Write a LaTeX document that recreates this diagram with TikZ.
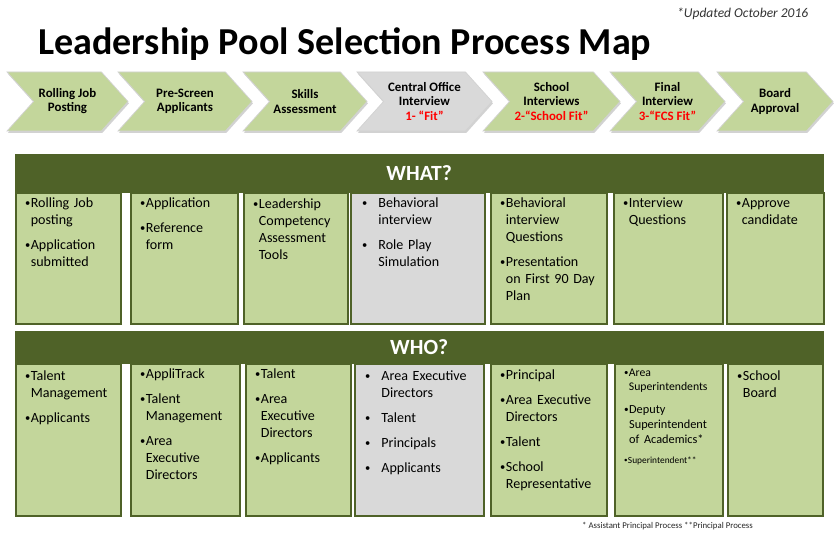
\documentclass[tikz,border=0pt]{standalone}
\usepackage{fontspec}
\setmainfont{Carlito}
\usepackage{xcolor}
\usetikzlibrary{shapes.symbols, shadows, positioning}
\newlength{\pxu}
\setlength{\pxu}{0.03cm}
\definecolor{chevgreen}{HTML}{C3D69B}
\definecolor{chevgray}{HTML}{D9D9D9}
\definecolor{darkolive}{HTML}{4F6228}
\definecolor{fitred}{HTML}{FF0000}
% bullet items with hanging indent
\newcommand{\smallbullet}{\raisebox{0.08em}{\scalebox{0.75}{\textbullet}}}
\newcommand{\bul}[1]{\setlength{\parskip}{8\pxu}\hangindent=0.4em\hangafter=1\makebox[0.4em][l]{\smallbullet}#1\par}
\newcommand{\gbul}[1]{\setlength{\parskip}{8\pxu}\hangindent=1.15em\hangafter=1\makebox[1.15em][l]{\smallbullet}#1\par}
\tikzset{
  % process chevrons
  chevron/.style={signal, signal from=west, signal to=east, signal pointer angle=96, minimum height=59\pxu, inner sep=0pt, draw=gray!35, line width=0.6pt, fill=#1, align=center, font=\bfseries\fontsize{11}{12}\selectfont, drop shadow={shadow xshift=0.8pt, shadow yshift=-1.6pt, opacity=0.35}},
  chevron/.default={chevgreen},
  % section header bars
  headbar/.style={rectangle, fill=darkolive, draw=darkolive, minimum width=808\pxu, anchor=north west, inner sep=0pt, text=white, font=\bfseries\fontsize{18.5}{20}\selectfont},
  % column boxes
  colbox/.style={rectangle, draw=darkolive, line width=1.6pt, fill=#1, anchor=north west, inner sep=0pt},
  colbox/.default={chevgreen},
  itemtext/.style={anchor=north west, inner sep=0pt, text width=#1, font=\fontsize{12}{14.5}\selectfont},
}
\begin{document}
\begin{tikzpicture}[x=\pxu, y=-\pxu]
    \useasboundingbox (0,0) rectangle (840,537);
    \fill[white] (0,0) rectangle (840,537);

    % Title
    \node[anchor=base west, inner sep=0pt, font=\bfseries\fontsize{32.5}{36}\selectfont] (title) at (38,55) {Leadership Pool Selection Process Map};
    \node[anchor=base west, inner sep=0pt, text=black!80, font=\itshape\fontsize{11.5}{13}\selectfont] (updated) at (677,18) {*Updated October 2016};

    % Chevrons
    \node[chevron, minimum width=121\pxu] (posting) at (67.5,101.5) {Rolling Job\\Posting};
    \node[chevron, minimum width=134\pxu] (prescreen) at (185,101.5) {Pre-Screen\\Applicants};
    \node[chevron, minimum width=124\pxu] (skills) at (305,101.5) {Skills\\Assessment};
    \node[chevron=chevgray, minimum width=135\pxu] (central) at (424.5,101.5) {Central Office\\Interview\\\textcolor{fitred}{1- “Fit”}};
    \node[chevron, minimum width=137\pxu] (school) at (551.5,101.5) {School\\Interviews\\\textcolor{fitred}{2-“School Fit”}};
    \node[chevron, minimum width=115\pxu] (final) at (667.5,101.5) {Final\\Interview\\\textcolor{fitred}{3-“FCS Fit”}};
    \node[chevron, minimum width=116\pxu] (board) at (775,101.5) {Board\\Approval};

    % WHAT? boxes
    \foreach \n/\xa/\xb/\col in {1/15/120/chevgreen, 2/130/237/chevgreen, 3/243/347/chevgreen, 4/350/484/chevgray, 5/490/606/chevgreen, 6/613/722/chevgreen, 7/726/823/chevgreen}
      \node[colbox=\col, minimum width={(\xb-\xa)*\pxu}, minimum height=131\pxu] (what\n) at (\xa,192) {};
    \node[headbar, minimum height=38\pxu] (whathead) at (15,154) {WHAT?};

    \node[itemtext=93\pxu, below right=6\pxu and 10\pxu of what1.north west] (whattxt1) {\bul{Rolling Job\newline posting}\bul{Application\newline submitted}};
    \node[itemtext=95\pxu, below right=6\pxu and 10\pxu of what2.north west] (whattxt2) {\bul{Application}\bul{Reference\newline form}};
    \node[itemtext=92\pxu, below right=7\pxu and 10\pxu of what3.north west] (whattxt3) {\bul{Leadership\newline Competency\newline Assessment\newline Tools}};
    \node[itemtext=120\pxu, below right=6\pxu and 12\pxu of what4.north west] (whattxt4) {\gbul{Behavioral\newline interview}\gbul{Role Play\newline Simulation}};
    \node[itemtext=104\pxu, below right=6\pxu and 10\pxu of what5.north west] (whattxt5) {\bul{Behavioral\newline interview\newline Questions}\bul{Presentation\newline on First 90 Day\newline Plan}};
    \node[itemtext=97\pxu, below right=6\pxu and 10\pxu of what6.north west] (whattxt6) {\bul{Interview\newline Questions}};
    \node[itemtext=85\pxu, below right=6\pxu and 10\pxu of what7.north west] (whattxt7) {\bul{Approve\newline candidate}};

    % WHO? boxes
    \foreach \n/\xa/\xb/\col in {1/15/120/chevgreen, 2/130/239/chevgreen, 3/245/350/chevgreen, 4/354/483/chevgray, 5/490/606/chevgreen, 6/614/722/chevgreen, 7/727/822/chevgreen}
      \node[colbox=\col, minimum width={(\xb-\xa)*\pxu}, minimum height=152\pxu] (who\n) at (\xa,363) {};
    \node[headbar, minimum height=32\pxu] (whohead) at (15,331) {WHO?};

    \node[itemtext=93\pxu, below right=8\pxu and 10\pxu of who1.north west] (whotxt1) {\bul{Talent\newline Management}\bul{Applicants}};
    \node[itemtext=97\pxu, below right=6\pxu and 10\pxu of who2.north west] (whotxt2) {\bul{AppliTrack}\bul{Talent\newline Management}\bul{Area\newline Executive\newline Directors}};
    \node[itemtext=93\pxu, below right=6\pxu and 10\pxu of who3.north west] (whotxt3) {\bul{Talent}\bul{Area\newline Executive\newline Directors}\bul{Applicants}};
    \node[itemtext=117\pxu, below right=8\pxu and 11\pxu of who4.north west] (whotxt4) {\gbul{Area Executive\newline Directors}\gbul{Talent}\gbul{Principals}\gbul{Applicants}};
    \node[itemtext=104\pxu, below right=7\pxu and 10\pxu of who5.north west] (whotxt5) {\bul{Principal}\bul{Area Executive\newline Directors}\bul{Talent}\bul{School\newline Representative}};
    \node[itemtext=98\pxu, below right=6\pxu and 10\pxu of who6.north west] (whotxt6) {\fontsize{10}{12}\selectfont\bul{Area\newline Superintendents}\fontsize{10.5}{12.8}\selectfont\bul{Deputy\newline Superintendent\newline of Academics*}\fontsize{8}{10}\selectfont\bul{Superintendent**}};
    \node[itemtext=85\pxu, below right=8\pxu and 10\pxu of who7.north west] (whotxt7) {\bul{School\newline Board}};

    % Footnote
    \node[anchor=base west, inner sep=0pt, text=black!85, font=\fontsize{7.5}{9}\selectfont] (footnote) at (582,528) {* Assistant Principal Process **Principal Process};
\end{tikzpicture}
\end{document}
